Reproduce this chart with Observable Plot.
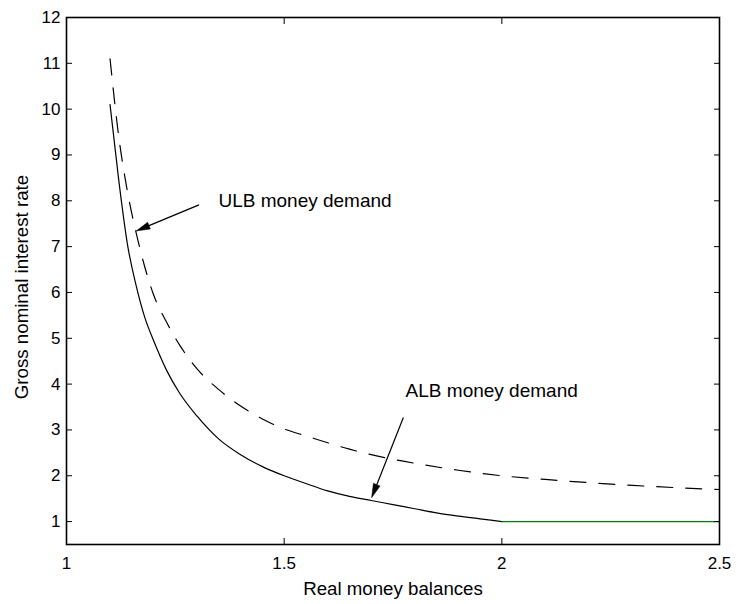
<!DOCTYPE html>
<html>
<head>
<meta charset="utf-8">
<script src="https://cdn.jsdelivr.net/npm/d3@7"></script>
<script src="https://cdn.jsdelivr.net/npm/@observablehq/plot@0.6"></script>
<style>
  html, body { margin: 0; padding: 0; background: white; }
</style>
</head>
<body>
<div id="chart"></div>
<script>
// ---- Data ----
const albX = [1.10, 1.12, 1.14, 1.16, 1.18, 1.20, 1.23, 1.26, 1.30, 1.35, 1.40, 1.45, 1.50, 1.55, 1.60, 1.65, 1.70, 1.75, 1.80, 1.85, 1.90, 1.95, 2.00];
const albY = [10.1, 8.45, 7.05, 6.15, 5.45, 4.95, 4.3, 3.8, 3.3, 2.80, 2.46, 2.2, 2.0, 1.83, 1.67, 1.55, 1.46, 1.37, 1.28, 1.19, 1.12, 1.06, 1.0];

const flatX = [2.0, 2.5];
const flatY = [1.0, 1.0];

const ulbX = [1.10, 1.12, 1.14, 1.16, 1.18, 1.20, 1.23, 1.26, 1.30, 1.35, 1.40, 1.45, 1.50, 1.55, 1.60, 1.65, 1.70, 1.76, 1.82, 1.90, 2.00, 2.10, 2.20, 2.30, 2.40, 2.50];
const ulbY = [11.1, 9.4, 8.2, 7.3, 6.55, 5.95, 5.35, 4.85, 4.33, 3.88, 3.52, 3.24, 3.02, 2.87, 2.72, 2.58, 2.46, 2.34, 2.24, 2.12, 2.0, 1.92, 1.85, 1.79, 1.74, 1.70];

const xTicks = [1, 1.5, 2, 2.5];
const yTicks = [1, 2, 3, 4, 5, 6, 7, 8, 9, 10, 11, 12];

const annText = ["ULB money demand", "ALB money demand"];
const annX = [1.349, 1.779];
const annY = [8.0, 3.86];

const arrowX1 = [1.3055, 1.775];
const arrowY1 = [7.90, 3.26];
const arrowX2 = [1.161, 1.702];
const arrowY2 = [7.33, 1.51];

const xLabel = "Real money balances";
const yLabel = "Gross nominal interest rate";

// ---- Arrow mark (line + filled head) drawn through Plot's scales ----
function arrowsMark(index, scales) {
  const g = d3.create("svg:g");
  for (let i = 0; i < arrowX1.length; i++) {
    const x1 = scales.x(arrowX1[i]), y1 = scales.y(arrowY1[i]);
    const x2 = scales.x(arrowX2[i]), y2 = scales.y(arrowY2[i]);
    const ang = Math.atan2(y2 - y1, x2 - x1);
    const L = 14, W = 3.6;
    const bx = x2 - L * Math.cos(ang), by = y2 - L * Math.sin(ang);
    const px = -Math.sin(ang) * W, py = Math.cos(ang) * W;
    g.append("line")
      .attr("x1", x1).attr("y1", y1).attr("x2", bx).attr("y2", by)
      .attr("stroke", "black").attr("stroke-width", 1.2);
    g.append("path")
      .attr("d", `M${x2},${y2}L${bx + px},${by + py}L${bx - px},${by - py}Z`)
      .attr("fill", "black").attr("stroke", "black").attr("stroke-width", 0.5);
  }
  return g.node();
}

const chart = Plot.plot({
  width: 736,
  height: 604,
  marginLeft: 66,
  marginRight: 17,
  marginTop: 17,
  marginBottom: 60,
  x: {domain: [1, 2.5]},
  y: {domain: [0.5, 12]},
  style: {
    fontFamily: "'Liberation Sans', Arial, Helvetica, sans-serif",
    fontSize: "17px",
    background: "white",
    color: "black",
    overflow: "visible"
  },
  marks: [
    Plot.line(albY, {x: albX, y: albY, curve: "monotone-x", stroke: "black", strokeWidth: 1.2}),
    Plot.line(flatY, {x: flatX, y: flatY, stroke: "#008000", strokeWidth: 1.2}),
    Plot.line(ulbY, {x: ulbX, y: ulbY, curve: "monotone-x", stroke: "black", strokeWidth: 1.2, strokeDasharray: "16,13"}),
    Plot.axisX(xTicks, {anchor: "bottom", tickSize: -6, tickPadding: 18, label: null, fontSize: 17, tickFormat: d => String(d)}),
    Plot.axisX(xTicks, {anchor: "top", tickSize: -6, tickFormat: () => "", label: null}),
    Plot.axisY(yTicks, {anchor: "left", tickSize: -6, tickPadding: 12, label: null, fontSize: 17, tickFormat: d => String(d)}),
    Plot.axisY(yTicks, {anchor: "right", tickSize: -6, tickFormat: () => "", label: null}),
    Plot.frame({stroke: "black", strokeWidth: 1.6}),
    Plot.text(annText, {x: annX, y: annY, text: annText, textAnchor: "start", fontSize: 19}),
    arrowsMark,
    Plot.text([xLabel], {frameAnchor: "bottom", textAnchor: "middle", lineAnchor: "middle", dy: 45, fontSize: 18.7}),
    Plot.text([yLabel], {frameAnchor: "left", textAnchor: "middle", lineAnchor: "middle", rotate: -90, dx: -44, dy: 6, fontSize: 18.7})
  ]
});

document.getElementById("chart").appendChild(chart);
</script>
</body>
</html>
